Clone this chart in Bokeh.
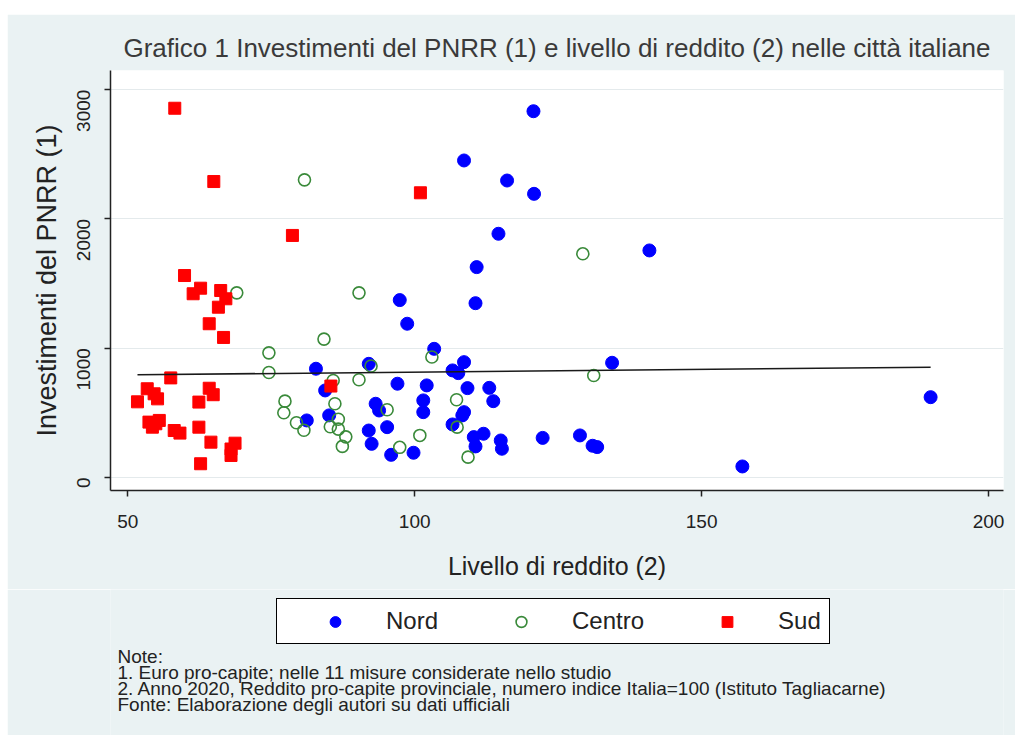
import math
from bokeh.plotting import figure
from bokeh.layouts import column
from bokeh.models import Range1d, FixedTicker, Legend, LegendItem, Title, Label
from bokeh.embed import file_html
from bokeh.resources import INLINE

# ---------------- data ----------------
nord_x = [120.7, 108.6, 116.1, 120.8, 114.6, 140.9, 110.8, 110.6, 97.4, 98.7,
          103.4, 108.6, 106.6, 107.6, 82.8, 92.0, 97.0, 102.1, 109.2, 113.0,
          113.7, 84.4, 93.2, 93.8, 101.5, 101.5, 108.6, 108.3, 106.6, 85.1,
          81.2, 92.0, 95.2, 92.5, 95.9, 99.8, 110.3, 112.0, 110.6, 115.0,
          115.2, 134.4, 122.3, 128.8, 131.0, 131.8, 157.1, 189.9]
nord_y = [2833, 2452, 2297, 2194, 1885, 1756, 1627, 1348, 1372, 1189,
          995, 892, 828, 807, 841, 879, 725, 712, 691, 693,
          590, 673, 570, 518, 596, 505, 505, 480, 410, 480,
          441, 363, 389, 260, 175, 191, 312, 338, 240, 286,
          222, 887, 306, 325, 245, 235, 85, 621]

centro_x = [80.8, 69.0, 90.3, 84.2, 74.6, 74.6, 90.3, 85.8, 77.4, 77.2,
            79.4, 80.7, 86.1, 86.7, 85.3, 86.7, 88.0, 87.4, 95.2, 97.4,
            100.9, 103.0, 107.3, 107.4, 109.3, 131.2, 129.3, 92.4]
centro_y = [2302, 1428, 1428, 1070, 964, 812, 756, 750, 590, 500,
            423, 365, 570, 450, 392, 374, 314, 240, 524, 233,
            325, 932, 601, 389, 157, 789, 1730, 862]

sud_x = [58.2, 65.0, 101.0, 78.7, 59.9, 61.4, 62.7, 66.2, 67.1, 65.8,
         64.2, 66.7, 57.5, 53.4, 54.6, 55.2, 51.7, 62.4, 64.2, 64.9,
         53.7, 54.9, 54.3, 55.5, 58.1, 59.1, 62.4, 64.5, 68.7, 68.0,
         68.0, 62.7, 85.4]
sud_y = [2856, 2289, 2202, 1872, 1562, 1421, 1464, 1446, 1382, 1317,
         1189, 1083, 770, 686, 647, 608, 585, 583, 690, 640,
         428, 415, 389, 441, 363, 343, 389, 273, 265, 220,
         170, 106, 707]

fit_x = [51.7, 189.9]
fit_y = [794, 853]

x_ticks = [50, 100, 150, 200]
y_ticks = [0, 1000, 2000, 3000]

title_text = "Grafico 1 Investimenti del PNRR (1) e livello di reddito (2) nelle città italiane"
x_label = "Livello di reddito (2)"
y_label = "Investimenti del PNRR (1)"
legend_labels = ["Nord", "Centro", "Sud"]
notes_lines = [
    "Note:",
    "1. Euro pro-capite; nelle 11 misure considerate nello studio",
    "2. Anno 2020, Reddito pro-capite provinciale, numero indice Italia=100 (Istituto Tagliacarne)",
    "Fonte: Elaborazione degli autori su dati ufficiali",
]

# ---------------- styling ----------------
FONT = "Liberation Sans"
BG = "#eaf2f3"
TXT = "#222222"
BLUE, GREEN, RED = "#0000ff", "#3a8a3a", "#ff0000"
W = 1008
NAN = float("nan")

p = figure(width=W, height=575,
           x_range=Range1d(47.0, 202.6), y_range=Range1d(-101, 3148),
           output_backend="svg", toolbar_location=None,
           min_border_left=103, min_border_right=12,
           min_border_top=56, min_border_bottom=99,
           background_fill_color="white", border_fill_color=BG,
           outline_line_color=None)

p.title = Title(text=title_text, align="center", offset=8, text_font=FONT,
                text_font_size="26px", text_font_style="normal",
                text_color="#3a3a3a", standoff=15)

for ax in (p.xaxis[0], p.yaxis[0]):
    ax.axis_line_color = TXT
    ax.axis_line_width = 1.5
    ax.major_tick_line_color = TXT
    ax.major_tick_line_width = 1.5
    ax.major_tick_out = 6
    ax.major_tick_in = 0
    ax.minor_tick_line_color = None
    ax.major_label_text_font = FONT
    ax.major_label_text_font_size = "19px"
    ax.major_label_text_color = TXT
    ax.axis_label_text_font = FONT
    ax.axis_label_text_font_style = "normal"
    ax.axis_label_text_color = TXT

p.xaxis.ticker = FixedTicker(ticks=x_ticks)
p.yaxis.ticker = FixedTicker(ticks=y_ticks)
p.xaxis.axis_label = x_label
p.yaxis.axis_label = y_label
p.xaxis.axis_label_text_font_size = "25px"
p.yaxis.axis_label_text_font_size = "27px"
p.yaxis.major_label_orientation = math.pi / 2
p.xaxis.major_label_standoff = 18
p.xaxis.axis_label_standoff = 21
p.yaxis.major_label_standoff = 21
p.yaxis.axis_label_standoff = 6

p.xgrid.visible = False
p.ygrid.ticker = FixedTicker(ticks=y_ticks)
p.ygrid.grid_line_color = "#e4eaec"
p.ygrid.grid_line_width = 1

p.scatter(nord_x, nord_y, marker="circle", size=13,
          fill_color=BLUE, line_color=BLUE)
p.scatter(centro_x, centro_y, marker="circle", size=12,
          fill_color=None, line_color=GREEN, line_width=1.6)
p.scatter(sud_x, sud_y, marker="square", size=12,
          fill_color=RED, line_color=RED)
p.line(fit_x, fit_y, line_color="#1a1a1a", line_width=1.6)

# ---------------- legend + notes panel ----------------
H2 = 146
q = figure(width=W, height=H2, x_range=Range1d(0, W), y_range=Range1d(0, H2),
           output_backend="svg", toolbar_location=None,
           x_axis_location=None, y_axis_location=None,
           min_border=0, background_fill_color=BG, border_fill_color=BG,
           outline_line_color=None)
q.grid.visible = False

# legend keys only (no visible data point)
k_n = q.scatter(x=[NAN], y=[NAN], marker="circle", size=13, fill_color=BLUE, line_color=BLUE)
k_c = q.scatter(x=[NAN], y=[NAN], marker="circle", size=12, fill_color=None,
                line_color=GREEN, line_width=1.6)
k_s = q.scatter(x=[NAN], y=[NAN], marker="square", size=12, fill_color=RED, line_color=RED)

legend = Legend(items=[LegendItem(label=legend_labels[0], renderers=[k_n]),
                       LegendItem(label=legend_labels[1], renderers=[k_c]),
                       LegendItem(label=legend_labels[2], renderers=[k_s])],
                orientation="horizontal", location=(166, 91),
                glyph_width=100, glyph_height=27, label_standoff=1,
                spacing=33, padding=8, margin=0,
                border_line_color="black", border_line_width=1.5,
                border_line_alpha=1.0,
                background_fill_color="white", background_fill_alpha=1,
                label_text_font=FONT, label_text_font_size="24px",
                label_text_color=TXT)
q.add_layout(legend, "center")

for i, line in enumerate(notes_lines):
    q.add_layout(Label(x=7, y=79 - 16 * i, x_units="screen", y_units="screen",
                       text=line, text_align="left", text_baseline="middle",
                       text_font=FONT, text_font_size="19px", text_color=TXT))

layout = column(p, q, spacing=0, margin=(14, 0, 0, 7))
open("out.html", "w").write(file_html(layout, INLINE))
